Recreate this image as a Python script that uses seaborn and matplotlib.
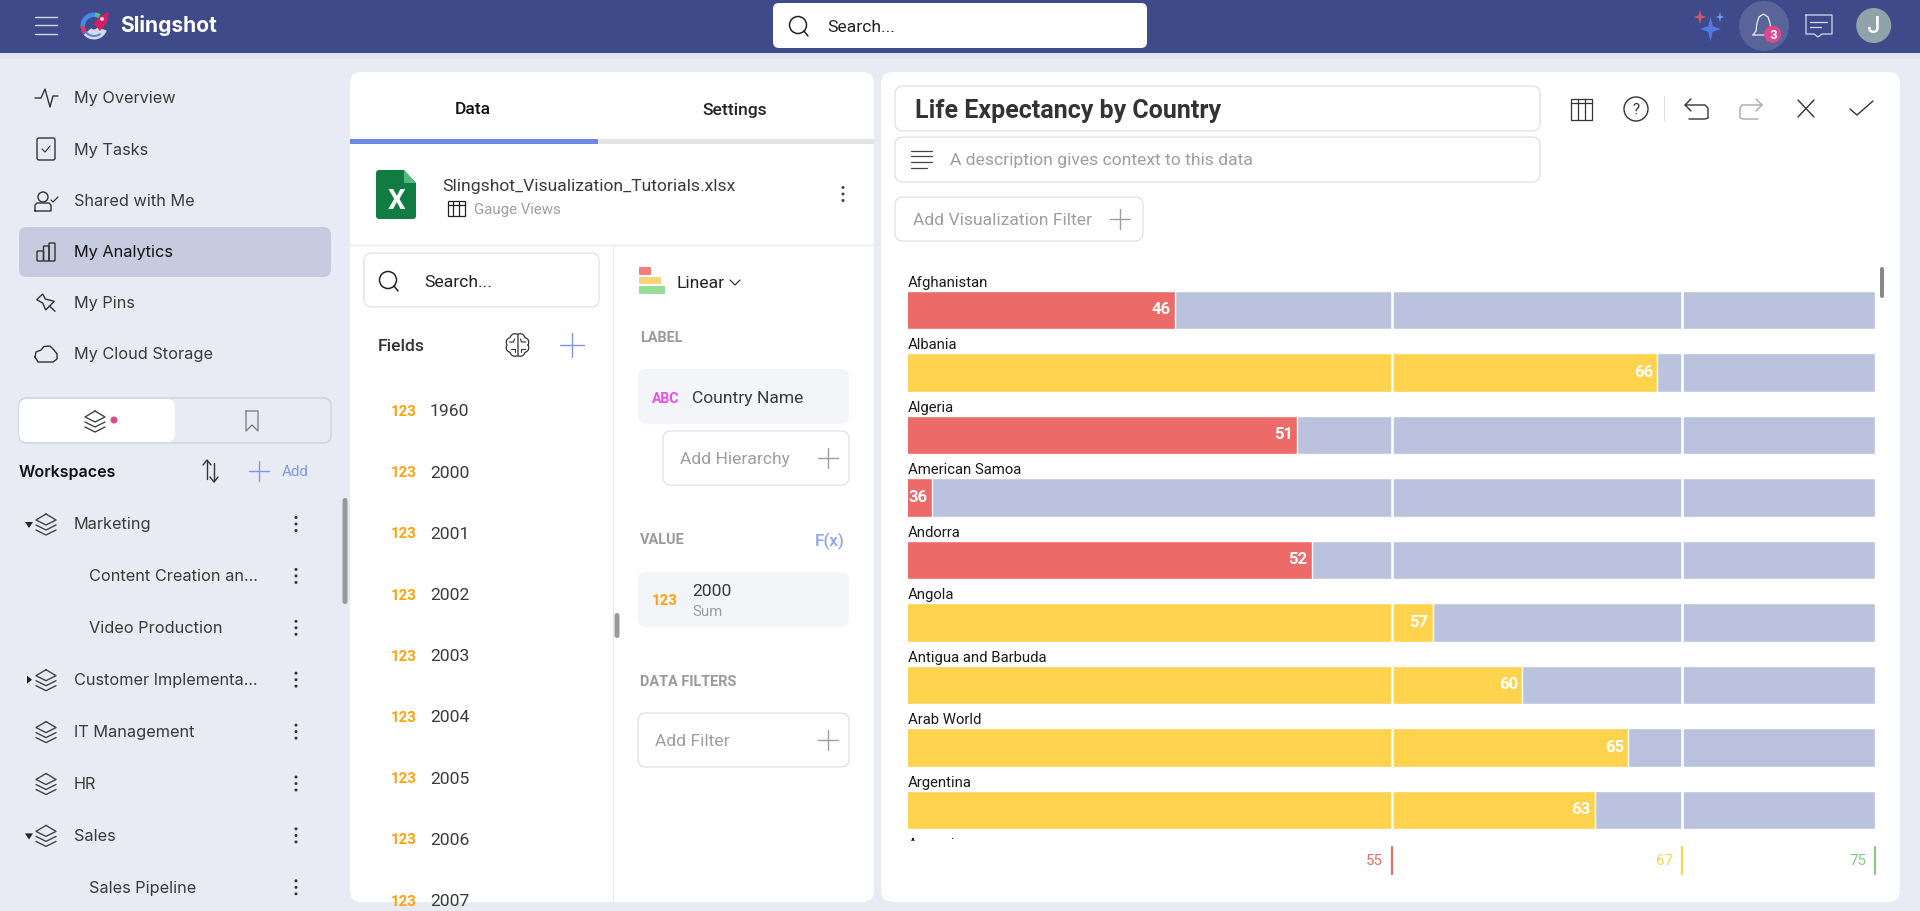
"""Slingshot visualization editor with the life expectancy linear gauge."""

import matplotlib
matplotlib.use("Agg")
import matplotlib.pyplot as plt
import numpy as np
import pandas as pd
import seaborn as sns
from matplotlib.patches import Circle, Ellipse, FancyBboxPatch, Polygon, Rectangle, Wedge

W, H = 1920, 912

# Chart data
countries = ["Afghanistan", "Albania", "Algeria", "American Samoa", "Andorra",
             "Angola", "Antigua and Barbuda", "Arab World", "Argentina"]
life_expectancy = [46.05, 66.0, 51.1, 36.0, 51.7, 56.7, 60.4, 64.8, 63.4]
next_country = "Armenia"
scale_min = 35
thresholds = [55, 67, 75]
threshold_colors = ["#EC6B69", "#FFD34D", "#86C988"]

# Interface text
nav_items = ["My Overview", "My Tasks", "Shared with Me", "My Analytics", "My Pins", "My Cloud Storage"]
workspaces = ["Marketing", "Content Creation an...", "Video Production", "Customer Implementa...",
              "IT Management", "HR", "Sales", "Sales Pipeline"]
field_names = ["1960", "2000", "2001", "2002", "2003", "2004", "2005", "2006", "2007"]

HEADER = "#3F4A8A"
PAGE = "#E8EBF3"
TRACK = "#BAC2DD"
INK = "#333333"
GREY = "#9E9E9E"
BLUE = "#8093EE"
BORDER = "#E3E3E3"
BODY = 17.5
NAV = 16.3

sns.set_theme(style="white")
plt.rcParams["font.family"] = ["Roboto", "DejaVu Sans"]

fig = plt.figure(figsize=(W / 100, H / 100), dpi=100, facecolor=PAGE)
ui = fig.add_axes([0, 0, 1, 1], zorder=0)
ui.set_xlim(0, W)
ui.set_ylim(H, 0)
ui.axis("off")
ui.autoscale(False)


def box(x0, y0, x1, y1, fc="white", ec="none", r=0, lw=1.0, z=1):
    if r:
        p = FancyBboxPatch((x0, y0), x1 - x0, y1 - y0, boxstyle=f"round,pad=0,rounding_size={r}",
                           fc=fc, ec=ec, lw=lw, zorder=z)
    else:
        p = Rectangle((x0, y0), x1 - x0, y1 - y0, fc=fc, ec=ec, lw=lw, zorder=z)
    ui.add_patch(p)
    return p


def label(x, y, s, px=BODY, color=INK, weight="normal", ha="left", clip=None, family=None):
    t = ui.text(x, y + 1, s, fontsize=px * 0.72, color=color, fontweight=weight, ha=ha, va="center", zorder=5)
    if family:
        t.set_family(family)
    if clip is not None:
        t.set_clip_path(clip)
        t.set_clip_on(True)
    return t


def stroke(xs, ys, color=INK, lw=1.0, z=5):
    ui.plot(xs, ys, color=color, lw=lw, solid_capstyle="round", solid_joinstyle="round", zorder=z)


def plus(x, y, size=10, color=GREY):
    stroke([x - size, x + size], [y, y], color, 1.0)
    stroke([x, x], [y - size, y + size], color, 1.0)


def kebab(x, y, color=INK):
    for dy in (-6.5, 0, 6.5):
        ui.add_patch(Circle((x, y + dy), 1.5, fc=color, ec="none", zorder=5))


def magnifier(x, y):
    ui.add_patch(Circle((x - 1, y - 1), 8.5, fc="none", ec="#222222", lw=1.1, zorder=5))
    stroke([x + 5, x + 9], [y + 5, y + 10], "#222222", 1.1)


def layers(x, y, color="#444444"):
    stroke([x, x + 10, x, x - 10, x], [y - 11, y - 5, y, y - 5, y - 11], color)
    stroke([x - 10, x, x + 10], [y, y + 5, y], color)
    stroke([x - 10, x, x + 10], [y + 5, y + 10, y + 5], color)


def star(x, y, rx, ry, color):
    k = 0.22
    pts = [(x, y - ry), (x + rx * k, y - ry * k), (x + rx, y), (x + rx * k, y + ry * k),
           (x, y + ry), (x - rx * k, y + ry * k), (x - rx, y), (x - rx * k, y - ry * k)]
    ui.add_patch(Polygon(pts, fc=color, ec="none", zorder=5))


def table_icon(x, y, w, h, color=INK):
    ui.add_patch(Rectangle((x - w / 2, y - h / 2), w, h, fc="none", ec=color, lw=0.9, zorder=5))
    stroke([x - w / 2, x + w / 2], [y - h / 2 + 4, y - h / 2 + 4], color, 0.9)
    for f in (-1 / 6, 1 / 6):
        stroke([x + f * w, x + f * w], [y - h / 2, y + h / 2], color, 0.9)


def brain(x, y):
    a = np.linspace(0, 2 * np.pi, 120)
    r = 10.5 + 1.3 * np.abs(np.sin(4 * a))
    stroke(x + r * np.cos(a), y + r * np.sin(a), "#333333", 0.9)
    stroke([x, x], [y - 11, y + 11], "#555555", 1.1)
    stroke([x - 8, x - 4, x - 3], [y - 3, y - 3, y - 6], "#333333", 0.8)
    stroke([x + 8, x + 4, x + 3], [y - 3, y - 3, y - 6], "#333333", 0.8)
    stroke([x - 7, x - 3, x - 3], [y + 4, y + 4, y + 7], "#333333", 0.8)
    stroke([x + 7, x + 3, x + 3], [y + 4, y + 4, y + 7], "#333333", 0.8)


# Page frame and header
box(0, 54, W, 60, fc="#E2E5EF")
box(0, 0, W, 54, fc=HEADER)
box(350, 73, 874, 903, r=12)
panel_fields = box(350, 73, 874, 903, fc="none", r=12)
box(881, 73, 1900, 903, r=12)

for y in (17.5, 26, 34.5):
    stroke([35, 57], [y, y], "#D5D9EA", 1.0)

# logo
ui.add_patch(Wedge((94, 27), 13.5, 20, 140, width=10, fc="#D9D9DD", ec="none", zorder=5))
ui.add_patch(Wedge((94, 27), 13.5, 180, 275, width=4.5, fc="#3F8CEA", ec="none", zorder=5))
ui.add_patch(Wedge((94, 27), 13.5, 275, 300, width=4.5, fc="#58C27D", ec="none", zorder=5))
ui.add_patch(Wedge((94, 27), 13.5, 140, 180, width=4.5, fc="#D93A6E", ec="none", zorder=5))
ui.add_patch(Wedge((94, 27), 11, 50, 145, width=2, fc="#3F8CEA", ec="none", zorder=6))
ui.add_patch(Polygon([(109, 13), (100, 17), (94, 25), (100, 32), (107, 23)], fc="#D81E63", ec="none", zorder=7))
ui.add_patch(Circle((102, 20), 2, fc="#F3D7E3", ec="none", zorder=8))
label(120, 25, "Slingshot", 21, "white", "bold", family="Inter")

box(773, 4, 1147, 49, r=6)
magnifier(799, 27)
label(827, 27, "Search...", BODY, "#222222")

star(1710.5, 30, 10.5, 12.5, "#5478E4")
star(1700, 18, 6.5, 7, "#D9536B")
star(1720, 18, 4, 5.5, "#62A6E4")
ui.add_patch(Ellipse((1764, 27), 50, 50, fc="#5A6499", ec="none", zorder=4))
stroke([1753, 1756, 1757, 1759, 1763.5, 1768, 1770, 1771, 1774, 1753],
       [36, 32, 24, 18, 15, 18, 24, 32, 36, 36], "white", 0.8)
ui.add_patch(Circle((1772.7, 35.3), 8.5, fc="#E0488E", ec="none", zorder=6))
ui.text(1772.7, 35.8, "3", fontsize=8.5, color="white", fontweight="bold", family="Inter",
        ha="center", va="center", zorder=7)
stroke([1806, 1832, 1832, 1822, 1818, 1814, 1806, 1806], [16, 16, 35, 35, 38, 35, 35, 16], "#D5D9EA", 0.9)
stroke([1810, 1827], [22.5, 22.5], "#D5D9EA", 0.9)
stroke([1810, 1821], [27.5, 27.5], "#D5D9EA", 0.9)
ui.add_patch(Circle((1873.7, 26.5), 17.5, fc="#8FA3A9", ec="none", zorder=4))
label(1873.7, 26, "J", 24, "white", "medium", ha="center", family="Inter")

# Left navigation
box(19, 228, 331, 278, fc="#C6CBE0", r=8)
for i, item in enumerate(nav_items):
    y = 98 + 51.2 * i
    label(74, y, item, NAV, "#111111" if item == "My Analytics" else "#3A3A3A", family="Inter")

stroke([35, 41, 45, 50, 53, 58], [99, 99, 90, 108, 97, 97])
box(37, 139, 55, 161, fc="none", ec=INK, r=2)
stroke([42, 45, 50], [150, 153, 147], lw=0.8)
ui.add_patch(Circle((43, 198), 5, fc="none", ec=INK, lw=1.0, zorder=5))
stroke([35, 35, 37, 49, 51, 51, 35], [212, 206, 204, 204, 206, 212, 212])
stroke([51, 53, 58], [201, 203, 198], lw=0.9)
box(37, 252, 43.5, 262, fc="none", ec=INK, lw=1.0, r=1)
box(43.5, 247, 49, 262, fc="none", ec=INK, lw=1.0, r=1)
box(49, 244, 55, 262, fc="none", ec=INK, lw=1.0, r=1)
ui.add_patch(Polygon([(36.7, 300.7), (42.7, 295), (45.3, 300), (54.3, 302.3), (45.7, 311), (42.7, 304)],
                     fc="none", ec=INK, lw=1.0, zorder=5))
stroke([49.3, 55], [306.7, 312.3])
stroke([35, 36, 41, 44, 50, 54, 57, 57, 53, 38, 35], [358, 353, 351, 347.5, 347, 351, 355, 360, 363, 363, 358])

box(19, 399, 331, 444, fc="none", ec="#CDD1DF", r=8)
box(19, 400, 175, 443, r=8, z=2)
layers(95, 423)
ui.add_patch(Circle((114, 421), 3.5, fc="#E0488E", ec="none", zorder=5))
stroke([246, 246, 252, 258, 258, 246], [412, 432, 426, 432, 412, 412], "#777777", 0.9)

label(19, 472, "Workspaces", 16, "#111111", "semibold", family="Inter")
stroke([207, 207], [462, 480])
stroke([203, 207, 211], [466, 461, 466])
stroke([214, 214], [464, 482])
stroke([210, 214, 218], [478, 483, 478])
plus(259, 472, 10, BLUE)
label(282, 471, "Add", 15, BLUE)

for i, name in enumerate(workspaces):
    y = 525 + 51.9 * i
    nested = name in ("Content Creation an...", "Video Production", "Sales Pipeline")
    label(89 if nested else 74, y - 1, name, NAV, "#3A3A3A", family="Inter")
    kebab(296, y)
    if not nested:
        layers(46, y + 1)
    if name in ("Marketing", "Sales"):
        ui.add_patch(Polygon([(25, y - 2), (33, y - 2), (29, y + 4)], fc="#222222", ec="none", zorder=5))
    if name.startswith("Customer"):
        ui.add_patch(Polygon([(27, y - 4), (27, y + 4), (32, y)], fc="#222222", ec="none", zorder=5))
box(342.5, 499, 347.5, 605, fc="#999999", r=2.5)

# Data panel
box(350, 140, 598, 145, fc="#6F88E8")
box(598, 140, 874, 145, fc="#E4E4E4")
label(473, 109, "Data", BODY, "#111111", "medium", ha="center")
label(735, 109, "Settings", BODY, "#222222", "medium", ha="center")

ui.add_patch(Polygon([(376, 173), (378, 171), (404, 171), (416, 184), (416, 218), (414, 220), (378, 220), (376, 218)],
                     fc="#107C41", ec="none", zorder=5))
ui.add_patch(Polygon([(404, 171), (416, 184), (404, 184)], fc="#55B87F", ec="none", zorder=6))
ui.text(396, 202, "X", fontsize=20, color="white", fontweight="bold", ha="center", va="center", zorder=6)
label(442, 186, "Slingshot_Visualization_Tutorials.xlsx", BODY, "#3A3A3A")
table_icon(456, 209.5, 17, 15, "#222222")
label(474, 209, "Gauge Views", 15, GREY)
kebab(843, 195, "#444444")

box(350, 245, 874, 248, fc="#F3F4F8")
box(612.5, 248, 613.5, 903, fc="#E8E8E8")
box(617 - 2.5, 614, 617 + 2.5, 639, fc="#999999", r=2.5, z=3)

box(364, 254, 599, 308, ec=BORDER, r=8)
magnifier(389, 282)
label(424, 282, "Search...", BODY, "#222222")
label(378, 346, "Fields", BODY, "#333333", "medium")
brain(517.5, 346)
plus(572, 346, 12, BLUE)

for i, year in enumerate(field_names):
    y = 411 + 61.2 * i
    label(391, y, "123", 15, "#FFA30F", "bold", clip=panel_fields)
    label(430, y, year, BODY, "#3A3A3A", clip=panel_fields)

box(639, 268, 651, 276, fc="#F77B7B", r=1)
box(639, 278, 661, 285, fc="#FAD27C", r=1)
box(639, 287, 665, 295, fc="#95DE93", r=1)
label(676, 283, "Linear", BODY, "#222222")
stroke([730, 735, 740], [281, 286, 281], lw=0.9)

label(640, 337, "LABEL", 14.5, "#9A9A9A", "bold")
box(638, 370, 849, 425, fc="#F4F5F9", r=8)
label(652, 398, "ABC", 14, "#EB4FE8", "bold")
label(692, 398, "Country Name", BODY, "#3A3A3A")
box(663, 432, 849, 486, ec=BORDER, r=8)
label(680, 459, "Add Hierarchy", BODY, GREY)
plus(828, 459, 10)

label(640, 539, "VALUE", 14.5, "#9A9A9A", "bold")
label(815, 540, "F(x)", 17, "#8FA3F0", "medium")
box(638, 573, 849, 628, fc="#F4F5F9", r=8)
label(652, 600, "123", 15, "#FFA30F", "bold")
label(692, 591, "2000", BODY, "#3A3A3A")
label(692, 611, "Sum", 15, GREY)

label(640, 681, "DATA FILTERS", 14.5, "#9A9A9A", "bold")
box(638, 714, 849, 768, ec=BORDER, r=8)
label(655, 741, "Add Filter", BODY, GREY)
plus(828, 741, 10)

# Visualization panel header
box(895, 87, 1540, 132, ec=BORDER, r=8)
label(915, 110, "Life Expectancy by Country", 25, "#333333", "bold")
box(895, 138, 1540, 183, ec=BORDER, r=8)
for y, x1 in ((152, 932), (157, 932), (163, 932), (169, 927)):
    stroke([911, x1], [y, y], "#444444", 0.9)
label(950, 159, "A description gives context to this data", BODY, GREY)
box(895, 198, 1143, 242, ec=BORDER, r=8)
label(913, 220, "Add Visualization Filter", BODY, GREY)
plus(1120, 220, 10)

table_icon(1581, 110, 21, 21)
ui.add_patch(Ellipse((1636, 110), 24, 24, fc="none", ec=INK, lw=1.0, zorder=5))
label(1636, 109, "?", 15, INK, ha="center")
box(1664, 97, 1665, 122, fc="#DDDDDD")
stroke([1685, 1705, 1708, 1708, 1705, 1689], [106, 106, 109, 119, 120, 120])
stroke([1691, 1685, 1691], [100, 106, 112])
stroke([1762, 1742, 1740, 1740, 1743, 1758], [106, 106, 109, 119, 120, 120], "#AAAAAA")
stroke([1756, 1762, 1756], [100, 106, 112], "#AAAAAA")
stroke([1798, 1814], [101, 118])
stroke([1814, 1798], [101, 118])
stroke([1850, 1857, 1873], [110, 116, 102])
box(1880, 268, 1884, 299, fc="#888888", r=2, z=6)

# Gauge rows
df = pd.DataFrame({"country": countries, "value": life_expectancy})
df["track"] = thresholds[-1]
df["band"] = pd.cut(df["value"], bins=[0] + thresholds, labels=threshold_colors[:3], right=False).astype(str)

ax = fig.add_axes([908 / W, 1 - 842.25 / H, (1875 - 908) / W, (842.25 - 279.75) / H], zorder=2)
ax.patch.set_alpha(0)
bar_width = 38.3 / 62.5
sns.barplot(data=df, x="track", y="country", color=TRACK, width=bar_width, saturation=1, ax=ax)
sns.barplot(data=df, x="value", y="country", hue="band", palette={c: c for c in threshold_colors},
            width=bar_width, dodge=False, saturation=1, legend=False, ax=ax)
ax.set_xlim(scale_min, thresholds[-1])
ax.set_ylim(len(countries) - 0.5, -0.5)
ax.set_xlabel("")
ax.set_ylabel("")
ax.set_xticks([])
ax.set_yticks([])
sns.despine(ax=ax, left=True, bottom=True)

for t in thresholds[:2]:
    ax.axvline(t, color="white", lw=1.9, zorder=4)

for i, (name, val) in enumerate(zip(countries, life_expectancy)):
    ax.annotate(name, (scale_min, i), xytext=(0, 17.3), textcoords="offset points",
                fontsize=10.7, color="#1A1A1A", va="baseline", ha="left", annotation_clip=False)
    ax.annotate(f"{val:.0f}", (val, i), xytext=(-3, 1), textcoords="offset points",
                fontsize=12, color="white", fontweight="bold", va="center", ha="right", zorder=6)
ax.annotate(next_country, (scale_min, len(countries)), xytext=(0, 17.3), textcoords="offset points",
            fontsize=10.7, color="#1A1A1A", va="baseline", ha="left", annotation_clip=False, clip_on=True)

# Threshold scale under the rows
scale = fig.add_axes([908 / W, 1 - 875 / H, (1875 - 908) / W, 27 / H], zorder=2)
scale.patch.set_alpha(0)
scale.set_xlim(scale_min, thresholds[-1])
scale.set_ylim(0, 1)
scale.axis("off")
for t, c in zip(thresholds, threshold_colors):
    scale.axvline(t, color=c, lw=1.6, clip_on=False)
    scale.annotate(str(t), (t, 0.5), xytext=(-6.5, 0), textcoords="offset points",
                   fontsize=10.8, color=c, va="center", ha="right")

fig.savefig("out.png", dpi=100, facecolor=PAGE)
